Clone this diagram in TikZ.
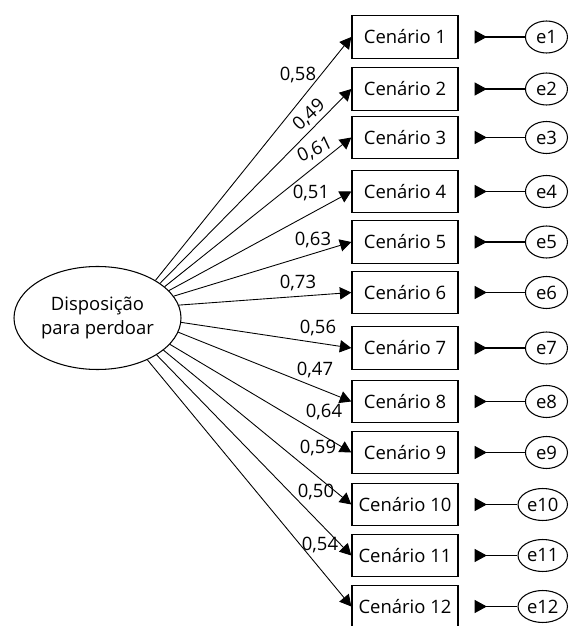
\documentclass[tikz,border=0pt]{standalone}
\usepackage{fontspec}
\setmainfont{Open Sans}
\usetikzlibrary{shapes,arrows.meta}

\begin{document}
\begin{tikzpicture}[
	font=\fontsize{10.5}{13.6}\selectfont,
	cenario/.style={draw,line width=0.8pt,minimum width=2.12cm,minimum height=0.85cm,inner sep=0pt},
	erro/.style={draw,ellipse,line width=0.6pt,minimum height=0.64cm,minimum width=0.84cm,inner sep=1pt,anchor=east},
	carga/.style={-{Triangle[length=6.5pt,width=7pt]},line width=0.5pt},
	residuo/.style={{Triangle[length=7pt,width=7.5pt,reversed]}-,line width=0.6pt},
	valor/.style={inner sep=0.5pt}]
	\useasboundingbox (0,0) rectangle (11.4,12.52);
	
	\node[draw,ellipse,line width=0.6pt,minimum width=3.34cm,minimum height=2.06cm,align=center,inner sep=0pt] (disp) at (1.95,6.16) {Disposição\\para perdoar};
	
	% cenarios
	\node[cenario] (c1) at (8.1,11.78) {Cenário 1};
	\node[cenario] (c2) at (8.1,10.74) {Cenário 2};
	\node[cenario] (c3) at (8.1,9.77) {Cenário 3};
	\node[cenario] (c4) at (8.1,8.69) {Cenário 4};
	\node[cenario] (c5) at (8.1,7.68) {Cenário 5};
	\node[cenario] (c6) at (8.1,6.67) {Cenário 6};
	\node[cenario] (c7) at (8.1,5.56) {Cenário 7};
	\node[cenario] (c8) at (8.1,4.49) {Cenário 8};
	\node[cenario] (c9) at (8.1,3.47) {Cenário 9};
	\node[cenario] (c10) at (8.1,2.43) {Cenário 10};
	\node[cenario] (c11) at (8.1,1.41) {Cenário 11};
	\node[cenario] (c12) at (8.1,0.39) {Cenário 12};
	
	% erros
	\node[erro] (e1) at (11.36,11.78) {e1};
	\node[erro] (e2) at (11.36,10.74) {e2};
	\node[erro] (e3) at (11.36,9.77) {e3};
	\node[erro] (e4) at (11.36,8.69) {e4};
	\node[erro] (e5) at (11.36,7.68) {e5};
	\node[erro] (e6) at (11.36,6.67) {e6};
	\node[erro] (e7) at (11.36,5.56) {e7};
	\node[erro] (e8) at (11.36,4.49) {e8};
	\node[erro] (e9) at (11.36,3.47) {e9};
	\node[erro] (e10) at (11.36,2.43) {e10};
	\node[erro] (e11) at (11.36,1.41) {e11};
	\node[erro] (e12) at (11.36,0.39) {e12};
	
	\coordinate (r1) at (9.49,11.78);
	\coordinate (r2) at (9.49,10.74);
	\coordinate (r3) at (9.49,9.77);
	\coordinate (r4) at (9.49,8.69);
	\coordinate (r5) at (9.49,7.68);
	\coordinate (r6) at (9.49,6.67);
	\coordinate (r7) at (9.49,5.56);
	\coordinate (r8) at (9.49,4.49);
	\coordinate (r9) at (9.49,3.47);
	\coordinate (r10) at (9.49,2.43);
	\coordinate (r11) at (9.49,1.41);
	\coordinate (r12) at (9.49,0.39);
	
	\draw[residuo] (r1) -- (e1);
	\draw[residuo] (r2) -- (e2);
	\draw[residuo] (r3) -- (e3);
	\draw[residuo] (r4) -- (e4);
	\draw[residuo] (r5) -- (e5);
	\draw[residuo] (r6) -- (e6);
	\draw[residuo] (r7) -- (e7);
	\draw[residuo] (r8) -- (e8);
	\draw[residuo] (r9) -- (e9);
	\draw[residuo] (r10) -- (e10);
	\draw[residuo] (r11) -- (e11);
	\draw[residuo] (r12) -- (e12);
	
	% cargas
	\draw[carga] (disp.33) -- (c1.west);
	\draw[carga] (disp.29) -- (c2.west);
	\draw[carga] (disp.25) -- (c3.west);
	\draw[carga] (disp.21) -- (c4.west);
	\draw[carga] (disp.16) -- (c5.west);
	\draw[carga] (disp.9) -- (c6.west);
	\draw[carga] (disp.-3) -- (c7.west);
	\draw[carga] (disp.-10) -- (c8.west);
	\draw[carga] (disp.-20) -- (c9.west);
	\draw[carga] (disp.-26) -- (c10.west);
	\draw[carga] (disp.-32) -- (c11.west);
	\draw[carga] (disp.-40) -- (c12.west);
	
	% labels
	\node[valor] at (5.96,11.02) {0,58};
	\node[valor,rotate=43] at (6.18,10.22) {0,49};
	\node[valor,rotate=25] at (6.3,9.52) {0,61};
	\node[valor] at (6.22,8.66) {0,51};
	\node[valor] at (6.26,7.72) {0,63};
	\node[valor] at (5.96,6.86) {0,73};
	\node[valor] at (6.36,5.96) {0,56};
	\node[valor] at (6.3,5.12) {0,47};
	\node[valor] at (6.48,4.28) {0,64};
	\node[valor] at (6.36,3.56) {0,59};
	\node[valor] at (6.32,2.68) {0,50};
	\node[valor] at (6.4,1.62) {0,54};
\end{tikzpicture}
\end{document}
